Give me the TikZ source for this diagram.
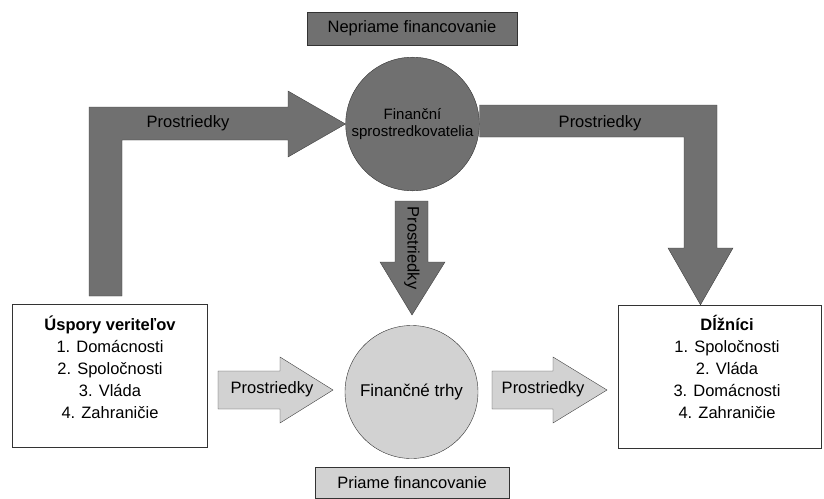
\documentclass[tikz,border=0pt]{standalone}
\usepackage{fontspec}
\setmainfont{Liberation Sans}
\usetikzlibrary{%
  shapes,%
  positioning,% wg. " of "
  calc%
}
\definecolor{darkfill}{RGB}{112,112,112}
\definecolor{lightfill}{RGB}{210,210,210}
\tikzset{
  blockarrow/.style={draw=black!75, fill=darkfill, line join=miter},
  lightarrow/.style={draw=black!75, fill=lightfill, line join=miter},
  label/.style={font=\fontsize{16.5}{20}\selectfont},
  partybox/.style={draw=black!80, rectangle, align=center, font=\fontsize{16.5}{22}\selectfont}
}
\begin{document}
\begin{tikzpicture}[x=1pt,y=-1pt]
\useasboundingbox (0,0) rectangle (824,498);

%Headings: indirect and direct financing
\node[draw=black!80, fill=darkfill, minimum width=210, minimum height=33, font=\fontsize{16.5}{20}\selectfont] (indirect) at (412,28.5) {Nepriame financovanie};
\node[draw=black!80, fill=lightfill, minimum width=194, minimum height=31, font=\fontsize{16.5}{20}\selectfont] (direct) at (412,483) {Priame financovanie};

% Savers and borrowers
\node[partybox, minimum width=195, minimum height=143] (savers) at (109.5,375.5) {};
\node[align=center, font=\fontsize{16.5}{22}\selectfont] (saverstext) at (110,367) {\bfseries Úspory veriteľov\\1. Domácnosti\\2. Spoločnosti\\3. Vláda\\4. Zahraničie};
\node[partybox, minimum width=203, minimum height=143] (borrowers) at (719.5,376.5) {};
\node[align=center, font=\fontsize{16.5}{22}\selectfont] (borrowerstext) at (727,367) {\bfseries Dĺžníci\\1. Spoločnosti\\2. Vláda\\3. Domácnosti\\4. Zahraničie};

% Intermediaries and markets
\node[draw=black!80, circle, fill=darkfill, minimum size=133, align=center, font=\fontsize{15}{17}\selectfont] (intermed) at (412.5,124) {Finanční\\sprostredkovatelia};
\node[draw=black!80, circle, fill=lightfill, minimum size=133, font=\fontsize{17}{20}\selectfont] (markets) at (411.5,392) {Finančné trhy};

% Funds: savers -> intermediaries -> borrowers
\draw[blockarrow] (89,296) -- (89,107) -- (288,107) -- (288,91) -- (intermed.west) -- (288,157) -- (288,140) -- (122,140) -- (122,296) -- cycle;
\node[label] (fundsA) at (188,123) {Prostriedky};

\coordinate (shaftTop) at (0,105);
\coordinate (shaftBot) at (0,137);
\coordinate (tipB) at (700.5,0);
\draw[blockarrow] (intermed.east |- shaftTop) -- (717,105) -- (717,248) -- (733,248) -- (tipB |- borrowers.north) -- (668,248) -- (684,248) -- (684,137) -- (intermed.east |- shaftBot) -- cycle;
\node[label] (fundsB) at (600,123) {Prostriedky};

\draw[blockarrow] (395,201) -- (428,201) -- (428,262) -- (445,262) -- (412,315) -- (380,262) -- (395,262) -- cycle;
\node[label, rotate=-90] (fundsC) at (412,248) {Prostriedky};

% Funds: savers -> markets -> borrowers
\draw[lightarrow] (218,371) -- (280,371) -- (280,357) -- (333,390) -- (280,423) -- (280,409) -- (218,409) -- cycle;
\node[label] (fundsD) at (272,389) {Prostriedky};

\draw[lightarrow] (492,371) -- (553,371) -- (553,357) -- (607,390) -- (553,423) -- (553,409) -- (492,409) -- cycle;
\node[label] (fundsE) at (543,389) {Prostriedky};
\end{tikzpicture}
\end{document}
